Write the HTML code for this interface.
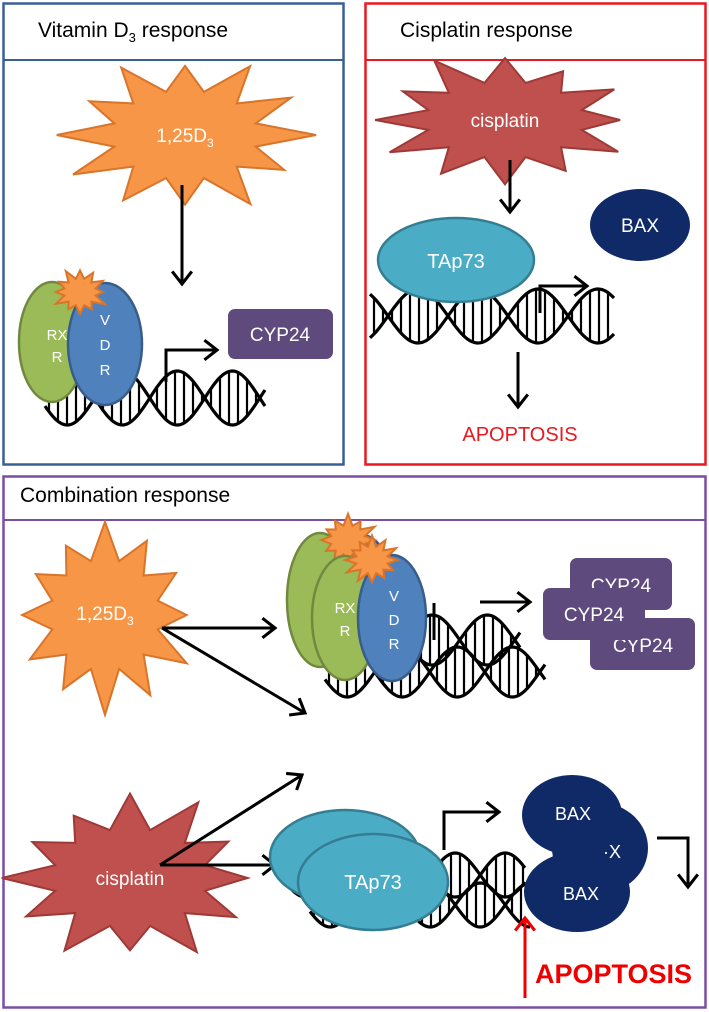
<!DOCTYPE html>
<html><head><meta charset="utf-8"><style>
html,body{margin:0;padding:0;background:#fff}
svg{display:block}
text{font-family:"Liberation Sans",sans-serif}
</style></head><body>
<svg id="s" width="709" height="1012" viewBox="0 0 709 1012" xmlns="http://www.w3.org/2000/svg">
<defs>
<marker id="ah" viewBox="0 0 10 10" refX="9" refY="5" markerWidth="14" markerHeight="14" orient="auto" markerUnits="userSpaceOnUse" style="overflow:visible">
<path d="M0,-2 L9,5 L0,12" fill="none" stroke="#000" stroke-width="2.2"/>
</marker>
<marker id="ahr" viewBox="0 0 10 10" refX="9" refY="5" markerWidth="14" markerHeight="14" orient="auto" markerUnits="userSpaceOnUse" style="overflow:visible">
<path d="M0,-2 L9,5 L0,12" fill="none" stroke="#e00" stroke-width="2.2"/>
</marker>
</defs>
<rect x="3.5" y="3.5" width="340" height="461" fill="#fff" stroke="#3a5f95" stroke-width="2.5"/>
<line x1="3" y1="60" x2="344" y2="60" stroke="#3a5f95" stroke-width="2"/>
<text x="38" y="37" font-size="21">Vitamin D<tspan font-size="13" dy="5">3</tspan><tspan dy="-5"> response</tspan></text>
<rect x="365.5" y="3.5" width="340" height="461" fill="#fff" stroke="#e8191f" stroke-width="2.5"/>
<line x1="365" y1="60" x2="706" y2="60" stroke="#e8191f" stroke-width="2"/>
<text x="400" y="37" font-size="21">Cisplatin response</text>
<rect x="3.5" y="476.5" width="702" height="531" fill="#fff" stroke="#7a4ea3" stroke-width="2.5"/>
<line x1="3" y1="520" x2="706" y2="520" stroke="#7a4ea3" stroke-width="2"/>
<text x="20" y="502" font-size="21">Combination response</text>
<g id="g"></g>
</svg>
<script>
var g=document.getElementById('g'),NS='http://www.w3.org/2000/svg';
function el(t,a,txt){var e=document.createElementNS(NS,t);for(var k in a)e.setAttribute(k,a[k]);if(txt!=null)e.textContent=txt;g.appendChild(e);return e;}
function star(cx,cy,rx,ry,n,inner,fill,stroke,seed){var p=[],s=seed||1;for(var i=0;i<2*n;i++){var a=Math.PI*i/n-Math.PI/2;s=(s*9301+49297)%233280;var j=0.88+0.24*s/233280;var r=i%2==0?j:inner;p.push((cx+Math.cos(a)*rx*r).toFixed(1)+','+(cy+Math.sin(a)*ry*r).toFixed(1));}el('polygon',{points:p.join(' '),fill:fill,stroke:stroke,'stroke-width':2,'stroke-linejoin':'miter'});}
function dna(x0,x1,yc,amp,period,phase){var d1='',d2='';for(var x=x0;x<=x1;x+=2){var t=(x-x0)/period*2*Math.PI+phase;var y1=yc+amp*Math.sin(t),y2=yc-amp*Math.sin(t);d1+=(x==x0?'M':'L')+x+','+y1.toFixed(1);d2+=(x==x0?'M':'L')+x+','+y2.toFixed(1);}
for(var x=x0+4;x<x1;x+=9){var t=(x-x0)/period*2*Math.PI+phase;var a=amp*Math.sin(t);if(Math.abs(a)>4)el('line',{x1:x,y1:yc-a,x2:x,y2:yc+a,stroke:'#000','stroke-width':2.2});}
el('path',{d:d1,fill:'none',stroke:'#000','stroke-width':3.2});el('path',{d:d2,fill:'none',stroke:'#000','stroke-width':3.2});}
function arrow(d,col){el('path',{d:d,fill:'none',stroke:col||'#000','stroke-width':3,'marker-end':col?'url(#ahr)':'url(#ah)'});}
var OR='#f79646',ORS='#d9742b',RD='#c0504d',RDS='#9d3a37',GR='#9bbb59',GRS='#71893f',BL='#4f81bd',BLS='#385d8a',TQ='#4bacc6',TQS='#357d91',NV='#0f2a66',PU='#5f4a7e';
star(185,135,118,72,12,0.62,OR,ORS,3);
el('text',{x:185,y:142,'font-size':19,fill:'#fff','text-anchor':'middle'}).innerHTML='1,25D<tspan font-size="12" dy="5">3</tspan>';
arrow('M182,185 L182,284');
dna(45,265,398,27,110,0.3);
el('ellipse',{cx:52,cy:342,rx:33,ry:60,fill:GR,stroke:GRS,'stroke-width':2.5});
el('ellipse',{cx:105,cy:344,rx:37,ry:61,fill:BL,stroke:BLS,'stroke-width':2.5});
star(80,292,26,22,12,0.62,OR,ORS,5);
el('text',{x:57,y:340,'font-size':15,fill:'#fff','text-anchor':'middle'},'RX');
el('text',{x:57,y:362,'font-size':15,fill:'#fff','text-anchor':'middle'},'R');
el('text',{x:105,y:325,'font-size':15,fill:'#fff','text-anchor':'middle'},'V');
el('text',{x:105,y:350,'font-size':15,fill:'#fff','text-anchor':'middle'},'D');
el('text',{x:105,y:375,'font-size':15,fill:'#fff','text-anchor':'middle'},'R');
arrow('M166,382 L166,350 L217,350');
el('rect',{x:228,y:309,width:105,height:50,rx:7,fill:PU});
el('text',{x:280,y:341,'font-size':19,fill:'#fff','text-anchor':'middle'},'CYP24');
star(505,120,128,62,12,0.62,RD,RDS,7);
el('text',{x:505,y:127,'font-size':19,fill:'#fff','text-anchor':'middle'},'cisplatin');
arrow('M510,160 L510,212');
dna(370,615,316,27,120,2.2);
el('ellipse',{cx:456,cy:260,rx:78,ry:42,fill:TQ,stroke:TQS,'stroke-width':2.5});
el('text',{x:456,y:268,'font-size':20,fill:'#fff','text-anchor':'middle'},'TAp73');
arrow('M540,313 L540,286 L587,286');
el('ellipse',{cx:640,cy:225,rx:50,ry:36,fill:NV});
el('text',{x:640,y:232,'font-size':19,fill:'#fff','text-anchor':'middle'},'BAX');
arrow('M518,352 L518,407');
el('text',{x:520,y:441,'font-size':20,fill:'#e8191f','text-anchor':'middle'},'APOPTOSIS');
star(105,615,88,90,12,0.62,OR,ORS,11);
el('text',{x:105,y:620,'font-size':19,fill:'#fff','text-anchor':'middle'}).innerHTML='1,25D<tspan font-size="12" dy="5">3</tspan>';
star(130,878,125,80,12,0.62,RD,RDS,13);
el('text',{x:130,y:885,'font-size':19,fill:'#fff','text-anchor':'middle'},'cisplatin');
arrow('M162,628 L275,628');arrow('M162,628 L305,713');
arrow('M160,865 L302,775');arrow('M160,865 L275,865');
dna(300,520,640,25,110,0.3);dna(325,545,672,25,110,0.3);
el('ellipse',{cx:320,cy:600,rx:33,ry:67,fill:GR,stroke:GRS,'stroke-width':2.5});
el('ellipse',{cx:362,cy:600,rx:33,ry:65,fill:BL,stroke:BLS,'stroke-width':2.5});
star(348,540,28,24,12,0.62,OR,ORS,17);
el('ellipse',{cx:345,cy:618,rx:33,ry:62,fill:GR,stroke:GRS,'stroke-width':2.5});
el('ellipse',{cx:392,cy:618,rx:34,ry:63,fill:BL,stroke:BLS,'stroke-width':2.5});
star(372,560,26,22,12,0.62,OR,ORS,19);
el('text',{x:345,y:613,'font-size':15,fill:'#fff','text-anchor':'middle'},'RX');
el('text',{x:345,y:636,'font-size':15,fill:'#fff','text-anchor':'middle'},'R');
el('text',{x:394,y:601,'font-size':15,fill:'#fff','text-anchor':'middle'},'V');
el('text',{x:394,y:625,'font-size':15,fill:'#fff','text-anchor':'middle'},'D');
el('text',{x:394,y:649,'font-size':15,fill:'#fff','text-anchor':'middle'},'R');
el('line',{x1:434,y1:603,x2:434,y2:640,stroke:'#000','stroke-width':3});
arrow('M480,602 L530,602');
el('rect',{x:570,y:558,width:102,height:52,rx:7,fill:PU});
el('text',{x:621,y:592,'font-size':19,fill:'#fff','text-anchor':'middle'},'CYP24');
el('rect',{x:590,y:618,width:105,height:52,rx:7,fill:PU});
el('text',{x:643,y:652,'font-size':19,fill:'#fff','text-anchor':'middle'},'CYP24');
el('rect',{x:543,y:588,width:102,height:52,rx:7,fill:PU});
el('text',{x:594,y:621,'font-size':19,fill:'#fff','text-anchor':'middle'},'CYP24');
dna(285,525,875,22,100,0.3);dna(310,530,905,22,100,0.3);
el('ellipse',{cx:345,cy:857,rx:75,ry:47,fill:TQ,stroke:TQS,'stroke-width':2.5});
el('ellipse',{cx:373,cy:882,rx:75,ry:48,fill:TQ,stroke:TQS,'stroke-width':2.5});
el('text',{x:373,y:889,'font-size':20,fill:'#fff','text-anchor':'middle'},'TAp73');
arrow('M444,850 L444,812 L499,812');
el('ellipse',{cx:600,cy:848,rx:48,ry:45,fill:NV});
el('ellipse',{cx:572,cy:815,rx:50,ry:40,fill:NV});
el('ellipse',{cx:577,cy:892,rx:53,ry:40,fill:NV});
el('text',{x:573,y:820,'font-size':18,fill:'#fff','text-anchor':'middle'},'BAX');
el('text',{x:612,y:858,'font-size':18,fill:'#fff','text-anchor':'middle'},'·X');
el('text',{x:581,y:900,'font-size':18,fill:'#fff','text-anchor':'middle'},'BAX');
arrow('M657,838 L688,838 L688,887');
el('path',{d:'M525,998 L525,918',fill:'none',stroke:'#e00','stroke-width':3,'marker-end':'url(#ahr)'});
el('text',{x:535,y:983,'font-size':27,'font-weight':'bold',fill:'#e00'},'APOPTOSIS');
</script>
</body></html>
